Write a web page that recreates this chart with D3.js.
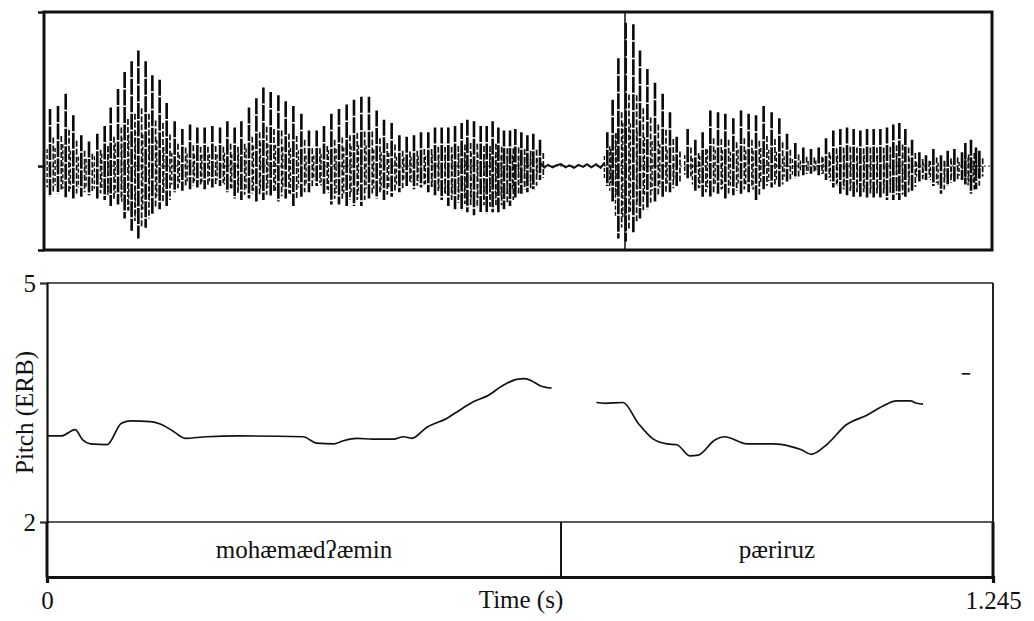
<!DOCTYPE html>
<html>
<head>
<meta charset="utf-8">
<script src="https://cdn.jsdelivr.net/npm/d3@7/dist/d3.min.js"></script>
<style>
  body { margin: 0; background: #fff; }
  svg { display: block; }
  text { font-family: "Liberation Serif", "Times New Roman", serif; fill: #111; }
</style>
</head>
<body>
<div id="chart"></div>
<script>
// time span of the recording (s)
const duration = 1.245;

// waveform: glottal pulses (positive / negative peak, relative amplitude)
const pulseTime = [0.0079, 0.0184, 0.0285, 0.0385, 0.0490, 0.0591, 0.0700, 0.0797, 0.0876, 0.0972,
  0.1059, 0.1151, 0.1239, 0.1335, 0.1423, 0.1519, 0.1611, 0.1716, 0.1817, 0.1918,
  0.2014, 0.2110, 0.2211, 0.2312, 0.2408, 0.2504, 0.2592, 0.2692, 0.2789, 0.2881,
  0.2977, 0.3078, 0.3174, 0.3275, 0.3380, 0.3480, 0.3581, 0.3677, 0.3774, 0.3874,
  0.3975, 0.4071, 0.4168, 0.4268, 0.4369, 0.4465, 0.4566, 0.4667, 0.4763, 0.4859,
  0.4951, 0.5047, 0.5135, 0.5223, 0.5310, 0.5398, 0.5485, 0.5560, 0.5647, 0.5735,
  0.5814, 0.5892, 0.5967, 0.6041, 0.6120, 0.6190, 0.6269, 0.6348, 0.6426, 0.6514,
  0.7398, 0.7468, 0.7543, 0.7639, 0.7740, 0.7827, 0.7924, 0.8024, 0.8125, 0.8221,
  0.8309, 0.8453, 0.8554, 0.8650, 0.8751, 0.8852, 0.8948, 0.9053, 0.9154, 0.9254,
  0.9351, 0.9451, 0.9556, 0.9657, 0.9758, 0.9867, 0.9972, 1.0073, 1.0174, 1.0270,
  1.0366, 1.0458, 1.0546, 1.0633, 1.0721, 1.0809, 1.0896, 1.0984, 1.1071, 1.1154,
  1.1233, 1.1312, 1.1400, 1.1496, 1.1583, 1.1680, 1.1780, 1.1868, 1.1956, 1.2056,
  1.2100, 1.2174, 1.2240, 1.2284];
const pulseTop = [0.37, 0.39, 0.47, 0.33, 0.20, 0.16, 0.21, 0.26, 0.38, 0.50,
  0.61, 0.68, 0.75, 0.68, 0.59, 0.56, 0.41, 0.29, 0.24, 0.27,
  0.25, 0.25, 0.26, 0.25, 0.29, 0.25, 0.29, 0.38, 0.44, 0.51,
  0.48, 0.46, 0.42, 0.39, 0.34, 0.23, 0.23, 0.26, 0.34, 0.37,
  0.40, 0.43, 0.45, 0.45, 0.36, 0.30, 0.28, 0.20, 0.19, 0.20,
  0.22, 0.22, 0.25, 0.25, 0.25, 0.26, 0.28, 0.30, 0.29, 0.26,
  0.26, 0.29, 0.25, 0.23, 0.23, 0.24, 0.22, 0.20, 0.21, 0.17,
  0.22, 0.43, 0.70, 0.93, 0.92, 0.75, 0.63, 0.54, 0.47, 0.35,
  0.19, 0.24, 0.17, 0.22, 0.36, 0.35, 0.34, 0.31, 0.36, 0.34,
  0.33, 0.39, 0.35, 0.31, 0.21, 0.15, 0.12, 0.11, 0.12, 0.18,
  0.23, 0.24, 0.25, 0.24, 0.23, 0.24, 0.24, 0.24, 0.25, 0.27,
  0.28, 0.24, 0.17, 0.09, 0.07, 0.11, 0.07, 0.10, 0.11, 0.09,
  0.15, 0.17, 0.12, 0.10];
const pulseBottom = [-0.20, -0.18, -0.21, -0.21, -0.20, -0.19, -0.21, -0.22, -0.26, -0.25,
  -0.34, -0.42, -0.47, -0.40, -0.32, -0.28, -0.26, -0.17, -0.16, -0.15,
  -0.14, -0.15, -0.14, -0.13, -0.17, -0.21, -0.22, -0.21, -0.23, -0.22,
  -0.20, -0.23, -0.21, -0.26, -0.20, -0.17, -0.13, -0.18, -0.25, -0.25,
  -0.26, -0.26, -0.26, -0.21, -0.21, -0.22, -0.20, -0.17, -0.13, -0.15,
  -0.14, -0.17, -0.19, -0.22, -0.26, -0.28, -0.29, -0.30, -0.32, -0.30,
  -0.31, -0.30, -0.30, -0.28, -0.26, -0.21, -0.18, -0.17, -0.15, -0.09,
  -0.13, -0.23, -0.47, -0.49, -0.43, -0.34, -0.28, -0.23, -0.20, -0.17,
  -0.13, -0.08, -0.17, -0.20, -0.20, -0.18, -0.21, -0.19, -0.18, -0.17,
  -0.22, -0.15, -0.14, -0.14, -0.10, -0.08, -0.06, -0.05, -0.06, -0.09,
  -0.14, -0.18, -0.19, -0.20, -0.20, -0.21, -0.21, -0.21, -0.22, -0.22,
  -0.22, -0.20, -0.16, -0.10, -0.09, -0.13, -0.18, -0.13, -0.10, -0.09,
  -0.12, -0.18, -0.15, -0.08];

// low-level noise in the closure before the second word
const noiseTime = [0.652, 0.657, 0.662, 0.668, 0.673, 0.679, 0.685, 0.690, 0.696, 0.702,
  0.708, 0.713, 0.719, 0.725, 0.731, 0.736];
const noiseAmp = [0.02, -0.01, 0.008, -0.008, 0.005, 0.012, -0.008, 0.005, -0.012, 0.008,
  -0.005, 0.012, -0.008, 0.012, -0.012, 0.02];

// cursor position in the waveform (s)
const cursorTime = 0.763;

// pitch track (ERB), three voiced stretches
const pitchTime1 = [0.000, 0.019, 0.037, 0.047, 0.057, 0.079, 0.098, 0.111, 0.136, 0.149,
  0.166, 0.182, 0.210, 0.254, 0.337, 0.355, 0.377, 0.390, 0.408, 0.429,
  0.456, 0.469, 0.480, 0.500, 0.526, 0.544, 0.561, 0.579, 0.601, 0.618,
  0.629, 0.638, 0.649, 0.664];
const pitchErb1 = [3.08, 3.08, 3.16, 3.03, 2.98, 2.97, 3.24, 3.27, 3.26, 3.23,
  3.14, 3.05, 3.07, 3.08, 3.07, 2.99, 2.98, 3.02, 3.05, 3.04,
  3.04, 3.07, 3.05, 3.19, 3.30, 3.41, 3.51, 3.58, 3.72, 3.79,
  3.80, 3.77, 3.71, 3.68];
const pitchTime2 = [0.723, 0.734, 0.758, 0.778, 0.798, 0.816, 0.829, 0.846, 0.857, 0.879,
  0.892, 0.921, 0.956, 0.978, 0.992, 1.006, 1.026, 1.052, 1.079, 1.101,
  1.118, 1.136, 1.145, 1.153];
const pitchErb2 = [3.50, 3.49, 3.50, 3.24, 3.04, 2.98, 2.97, 2.83, 2.84, 3.03,
  3.07, 2.98, 2.98, 2.95, 2.91, 2.85, 2.97, 3.22, 3.34, 3.46,
  3.52, 3.52, 3.49, 3.48];
const pitchTime3 = [1.204, 1.215];
const pitchErb3 = [3.86, 3.86];

// pitch axis ticks and text-grid intervals
const pitchTicks = [2, 5];
const timeTicks = [0, 1.245];
const intervalStart = [0, 0.6765];
const intervalEnd = [0.6765, 1.245];
const intervalLabel = ['mohæmædʔæmin', 'pæriruz'];

const width = 1034;
const height = 621;

const svg = d3.select('#chart')
  .append('svg')
  .attr('width', width)
  .attr('height', height);

// ---------- waveform panel ----------
const wave = { left: 44, right: 992, top: 12, bottom: 250 };

const xWave = d3.scaleLinear()
  .domain([0, duration])
  .range([wave.left, wave.right]);

const yWave = d3.scaleLinear()
  .domain([-0.545, 1])
  .range([wave.bottom, wave.top]);

const pulses = pulseTime.map((t, i) => ({ t, top: pulseTop[i], bottom: pulseBottom[i] }));

const gWave = svg.append('g').attr('class', 'waveform');

// dotted zero line
gWave.append('line')
  .attr('x1', wave.left).attr('x2', wave.right)
  .attr('y1', yWave(0)).attr('y2', yWave(0))
  .attr('stroke', '#222')
  .attr('stroke-width', 1)
  .attr('stroke-dasharray', '2,2');

// secondary oscillations after each pulse (damped ringing)
gWave.selectAll('.ring')
  .data(pulses)
  .enter()
  .append('line')
  .attr('class', 'ring')
  .attr('x1', d => xWave(d.t) + 3.3)
  .attr('x2', d => xWave(d.t) + 3.3)
  .attr('y1', d => yWave(d.top * 0.5))
  .attr('y2', d => yWave(d.bottom * 0.85))
  .attr('stroke', '#111')
  .attr('stroke-width', 1.7)
  .attr('stroke-dasharray', '6,2');

gWave.selectAll('.ring2')
  .data(pulses)
  .enter()
  .append('line')
  .attr('class', 'ring2')
  .attr('x1', d => xWave(d.t) - 2.9)
  .attr('x2', d => xWave(d.t) - 2.9)
  .attr('y1', d => yWave(d.top * 0.3))
  .attr('y2', d => yWave(d.bottom * 0.7))
  .attr('stroke', '#111')
  .attr('stroke-width', 1.4)
  .attr('stroke-dasharray', '4,2');

// main pulses
gWave.selectAll('.pulse')
  .data(pulses)
  .enter()
  .append('line')
  .attr('class', 'pulse')
  .attr('x1', d => xWave(d.t))
  .attr('x2', d => xWave(d.t))
  .attr('y1', d => yWave(d.top))
  .attr('y2', d => yWave(d.bottom))
  .attr('stroke', '#0a0a0a')
  .attr('stroke-width', 2.6)
  .attr('stroke-dasharray', '16,1.5');

// closure noise
gWave.append('path')
  .datum(noiseTime.map((t, i) => [t, noiseAmp[i]]))
  .attr('fill', 'none')
  .attr('stroke', '#111')
  .attr('stroke-width', 2)
  .attr('d', d3.line().x(d => xWave(d[0])).y(d => yWave(d[1])));

// cursor
gWave.append('line')
  .attr('x1', xWave(cursorTime)).attr('x2', xWave(cursorTime))
  .attr('y1', wave.top).attr('y2', wave.bottom)
  .attr('stroke', '#111')
  .attr('stroke-width', 1.5);

// frame
gWave.append('rect')
  .attr('x', wave.left).attr('y', wave.top)
  .attr('width', wave.right - wave.left)
  .attr('height', wave.bottom - wave.top)
  .attr('fill', 'none')
  .attr('stroke', '#111')
  .attr('stroke-width', 3);

// little ticks on the left of the waveform
const yWaveAxis = d3.axisLeft(yWave)
  .tickValues([yWave.domain()[0], 0, yWave.domain()[1]])
  .tickSize(6)
  .tickFormat('');
gWave.append('g')
  .attr('transform', `translate(${wave.left}, 0)`)
  .call(yWaveAxis)
  .call(g => g.select('.domain').remove())
  .call(g => g.selectAll('line').attr('stroke', '#111').attr('stroke-width', 2.5));

// ---------- pitch + text grid panel ----------
const pitch = { left: 47, right: 993, top: 283, bottom: 522, grid: 577 };

const xPitch = d3.scaleLinear()
  .domain([0, duration])
  .range([pitch.left, pitch.right]);

const yPitch = d3.scaleLinear()
  .domain([2, 5])
  .range([pitch.bottom, pitch.top]);

const gPitch = svg.append('g').attr('class', 'pitch');

// top and grid lines
gPitch.append('line')
  .attr('x1', pitch.left).attr('x2', pitch.right)
  .attr('y1', pitch.top).attr('y2', pitch.top)
  .attr('stroke', '#222').attr('stroke-width', 1.5);
gPitch.append('line')
  .attr('x1', pitch.left).attr('x2', pitch.right)
  .attr('y1', pitch.bottom).attr('y2', pitch.bottom)
  .attr('stroke', '#222').attr('stroke-width', 1.5);

// right border
gPitch.append('line')
  .attr('x1', pitch.right).attr('x2', pitch.right)
  .attr('y1', pitch.top).attr('y2', pitch.bottom)
  .attr('stroke', '#222').attr('stroke-width', 2);
gPitch.append('line')
  .attr('x1', pitch.right).attr('x2', pitch.right)
  .attr('y1', pitch.bottom).attr('y2', pitch.grid)
  .attr('stroke', '#111').attr('stroke-width', 3);

// left axis with 2 and 5
const yAxis = d3.axisLeft(yPitch)
  .tickValues(pitchTicks)
  .tickSize(7)
  .tickPadding(4)
  .tickFormat(d3.format('d'));
gPitch.append('g')
  .attr('transform', `translate(${pitch.left}, 0)`)
  .call(yAxis)
  .call(g => g.select('.domain').attr('stroke', '#111').attr('stroke-width', 2.2))
  .call(g => g.selectAll('.tick line').attr('stroke', '#333').attr('stroke-width', 1.2))
  .call(g => g.selectAll('.tick text')
    .style('font-family', '"Liberation Serif", serif')
    .style('font-size', '25px')
    .attr('fill', '#111'));

gPitch.append('line')
  .attr('x1', pitch.left).attr('x2', pitch.left)
  .attr('y1', pitch.bottom).attr('y2', pitch.grid)
  .attr('stroke', '#111').attr('stroke-width', 3);

// pitch label
gPitch.append('text')
  .attr('transform', `translate(33, ${(pitch.top + pitch.bottom) / 2 + 10}) rotate(-90)`)
  .attr('text-anchor', 'middle')
  .style('font-size', '25px')
  .text('Pitch (ERB)');

// pitch contours
const pitchLine = d3.line()
  .x(d => xPitch(d[0]))
  .y(d => yPitch(d[1]))
  .curve(d3.curveMonotoneX);

const segments = [
  pitchTime1.map((t, i) => [t, pitchErb1[i]]),
  pitchTime2.map((t, i) => [t, pitchErb2[i]]),
  pitchTime3.map((t, i) => [t, pitchErb3[i]]),
];

gPitch.selectAll('.contour')
  .data(segments)
  .enter()
  .append('path')
  .attr('class', 'contour')
  .attr('fill', 'none')
  .attr('stroke', '#111')
  .attr('stroke-width', 1.7)
  .attr('d', pitchLine);

// text grid
const intervals = intervalLabel.map((label, i) => ({ label, start: intervalStart[i], end: intervalEnd[i] }));

gPitch.selectAll('.boundary')
  .data(intervals.slice(1))
  .enter()
  .append('line')
  .attr('class', 'boundary')
  .attr('x1', d => xPitch(d.start)).attr('x2', d => xPitch(d.start))
  .attr('y1', pitch.bottom).attr('y2', pitch.grid)
  .attr('stroke', '#111').attr('stroke-width', 2);

gPitch.selectAll('.interval-label')
  .data(intervals)
  .enter()
  .append('text')
  .attr('class', 'interval-label')
  .attr('x', d => xPitch((d.start + d.end) / 2))
  .attr('y', (pitch.bottom + pitch.grid) / 2 + 8)
  .attr('text-anchor', 'middle')
  .style('font-size', '25px')
  .text(d => d.label);

// bottom time axis
const xAxis = d3.axisBottom(xPitch)
  .tickValues(timeTicks)
  .tickSize(6)
  .tickPadding(8)
  .tickFormat(d => (d === 0 ? '0' : d3.format('.3f')(d)));
gPitch.append('g')
  .attr('transform', `translate(0, ${pitch.grid})`)
  .call(xAxis)
  .call(g => g.select('.domain').attr('stroke', '#111').attr('stroke-width', 3.2))
  .call(g => g.selectAll('.tick line').attr('stroke', '#111').attr('stroke-width', 3))
  .call(g => g.selectAll('.tick text')
    .style('font-family', '"Liberation Serif", serif')
    .style('font-size', '25px')
    .attr('fill', '#111'));

svg.append('text')
  .attr('x', 521)
  .attr('y', 608)
  .attr('text-anchor', 'middle')
  .style('font-size', '25px')
  .text('Time (s)');
</script>
</body>
</html>
